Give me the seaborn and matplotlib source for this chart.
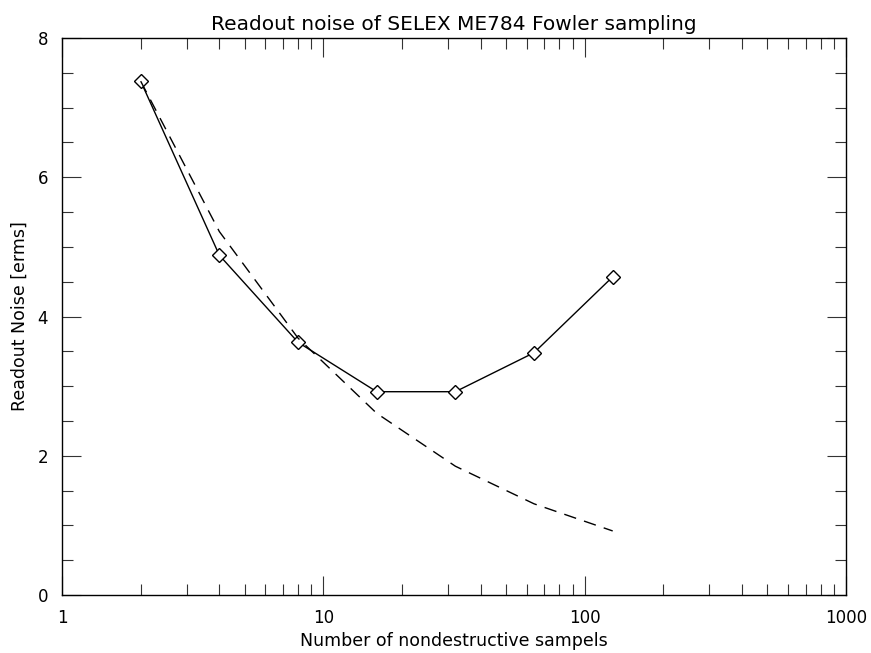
import numpy as np
import pandas as pd
import matplotlib
matplotlib.use("Agg")
import matplotlib.pyplot as plt
import seaborn as sns
from matplotlib.ticker import LogLocator, FixedLocator, NullFormatter, FuncFormatter

# samples and measured noise
n_samples = [2, 4, 8, 16, 32, 64, 128]
noise_measured = [7.38, 4.88, 3.63, 2.92, 2.92, 3.48, 4.57]
# expected curve (dashed)
noise_expected = [7.38, 5.22, 3.69, 2.61, 1.85, 1.31, 0.92]

df = pd.DataFrame({'n': n_samples, 'measured': noise_measured, 'expected': noise_expected})

sns.set_style("ticks")
plt.rcParams['font.family'] = ['DejaVu Sans']
plt.rcParams['text.color'] = 'black'
plt.rcParams['axes.labelcolor'] = 'black'
plt.rcParams['xtick.labelcolor'] = 'black'
plt.rcParams['ytick.labelcolor'] = 'black'

fig = plt.figure(figsize=(8.71, 6.53), dpi=100)
ax = fig.add_axes([0.0712, 0.0888, 0.9001, 0.853])

sns.lineplot(data=df, x='n', y='measured', ax=ax, color='black', linewidth=1,
             marker='D', markersize=7, markerfacecolor='white', markeredgecolor='black',
             markeredgewidth=1)
sns.lineplot(data=df, x='n', y='expected', ax=ax, color='black', linewidth=1)
ax.lines[-1].set_dashes([9, 6])

ax.set_xscale('log')
ax.set_xlim(1, 1000)
ax.set_ylim(0, 8)
ax.set_yticks([0, 2, 4, 6, 8])
ax.yaxis.set_minor_locator(FixedLocator(np.arange(0, 8.01, 0.5)))
ax.xaxis.set_major_locator(LogLocator(base=10))
ax.xaxis.set_minor_locator(LogLocator(base=10, subs=np.arange(2, 10)))
ax.xaxis.set_minor_formatter(NullFormatter())
ax.xaxis.set_major_formatter(FuncFormatter(lambda v, p: f"{int(round(v))}"))

ax.tick_params(which='both', direction='in', top=True, right=True, width=0.8, color='#333333')
ax.tick_params(which='major', length=14, labelsize=12, pad=10)
ax.tick_params(which='minor', length=8)
for s in ax.spines.values():
    s.set_linewidth(1)
    s.set_color('black')

ax.set_xlabel('Number of nondestructive sampels', fontsize=12.5)
ax.set_ylabel('Readout Noise [erms]', fontsize=12.5, labelpad=6)
ax.set_title('Readout noise of SELEX ME784 Fowler sampling', fontsize=14.5, pad=6)

fig.savefig('out.png', dpi=100)
